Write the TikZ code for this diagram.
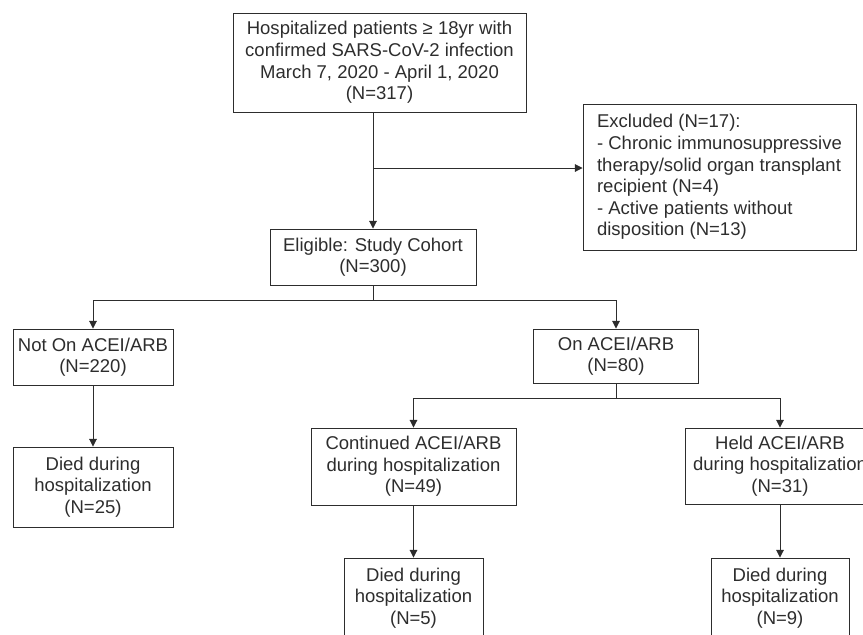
\documentclass[tikz,border=0pt]{standalone}
\usepackage{fontspec}
\setmainfont{Liberation Sans}
\usepackage{tikz}
\usetikzlibrary{arrows.meta, positioning, calc}
\definecolor{flowgray}{RGB}{45,45,45}

\begin{document}
\begin{tikzpicture}[
    x=0.03cm, y=-0.03cm,
    box/.style={rectangle, draw=flowgray, line width=0.8pt, text=flowgray, align=center, inner sep=0pt, font=\fontsize{15.8}{18.4}\selectfont},
    arrow/.style={-{Triangle[length=6.5pt, width=6.5pt]}, line width=0.8pt, color=flowgray},
    link/.style={line width=0.8pt, color=flowgray}
]
    \clip (0,0) rectangle (863,634);

    \node[box, minimum width=293*0.03cm, minimum height=99*0.03cm] (cohort) at (379.5,62.5) {Hospitalized patients ≥ 18yr with\\confirmed SARS-CoV-2 infection\\March 7, 2020 - April 1, 2020\\(N=317)};
    \node[box, align=left, minimum width=273*0.03cm, minimum height=146*0.03cm] (excluded) at (719.5,177) {Excluded (N=17):\\- Chronic immunosuppressive\\therapy/solid organ transplant\\recipient (N=4)\\- Active patients without\\disposition (N=13)};
    \node[box, minimum width=206*0.03cm, minimum height=56*0.03cm] (eligible) at (373,257) {Eligible: Study Cohort\\(N=300)};
    \node[box, minimum width=160*0.03cm, minimum height=56*0.03cm] (noton) at (93,357) {Not On ACEI/ARB\\(N=220)};
    \node[box, minimum width=165*0.03cm, minimum height=54*0.03cm] (on) at (616,356) {On ACEI/ARB\\(N=80)};
    \node[box, minimum width=160*0.03cm, minimum height=80*0.03cm] (diednot) at (93,487) {Died during\\hospitalization\\(N=25)};
    \node[box, minimum width=205*0.03cm, minimum height=77*0.03cm] (continued) at (413.5,466.5) {Continued ACEI/ARB\\during hospitalization\\(N=49)};
    \node[box, minimum width=190*0.03cm, minimum height=76*0.03cm] (held) at (780,466) {Held ACEI/ARB\\during hospitalization\\(N=31)};
    \node[box, minimum width=139*0.03cm, minimum height=80*0.03cm] (diedcont) at (413.5,598) {Died during\\hospitalization\\(N=5)};
    \node[box, minimum width=138*0.03cm, minimum height=80*0.03cm] (diedheld) at (780,598) {Died during\\hospitalization\\(N=9)};

    \coordinate (exsplit) at (374,168);
    \coordinate (cohortsplit) at (373,300);
    \coordinate (onsplit) at (616,398);

    \draw[arrow] (eligible.north |- cohort.south) -- (eligible.north);
    \draw[arrow] (exsplit) -- (exsplit -| excluded.west);

    \draw[link] (eligible.south) -- (cohortsplit);
    \draw[arrow] (cohortsplit) -| (noton.north);
    \draw[arrow] (cohortsplit) -| (on.north);

    \draw[link] (on.south) -- (onsplit);
    \draw[arrow] (onsplit) -| (continued.north);
    \draw[arrow] (onsplit) -| (held.north);

    \draw[arrow] (noton.south) -- (diednot.north);
    \draw[arrow] (continued.south) -- (diedcont.north);
    \draw[arrow] (held.south) -- (diedheld.north);
\end{tikzpicture}
\end{document}
